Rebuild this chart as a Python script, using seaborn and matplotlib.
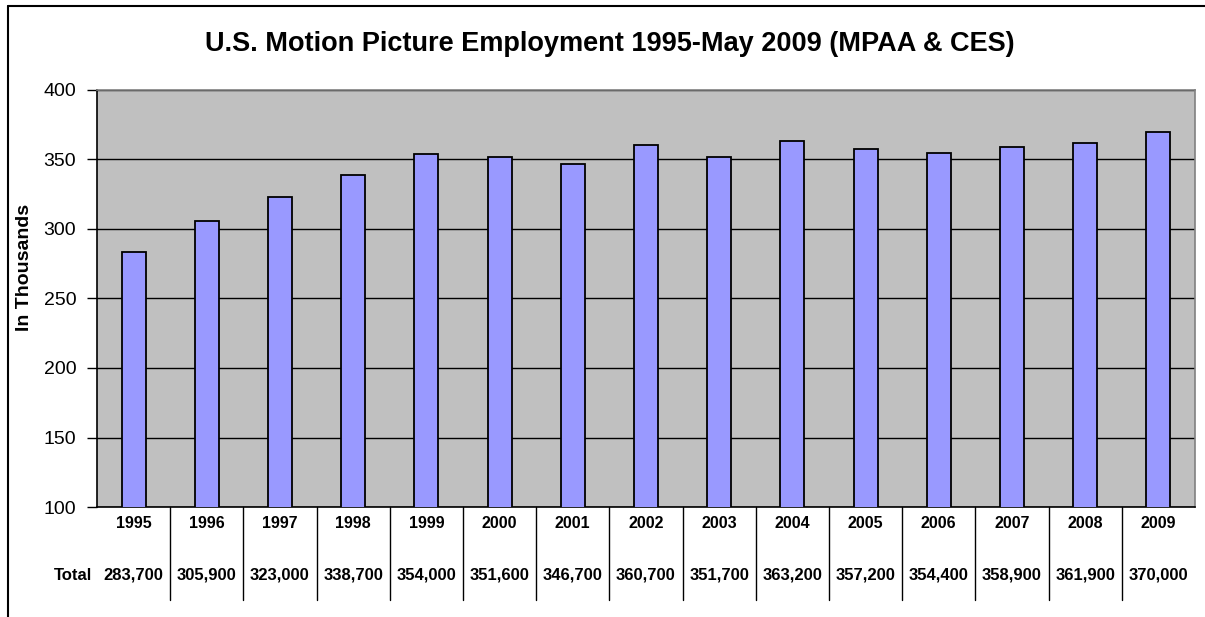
import matplotlib
matplotlib.use("Agg")
import matplotlib.pyplot as plt
import matplotlib.transforms as mtransforms
from matplotlib.lines import Line2D
import seaborn as sns
import pandas as pd

years = ["1995", "1996", "1997", "1998", "1999", "2000", "2001", "2002",
         "2003", "2004", "2005", "2006", "2007", "2008", "2009"]
totals = [283700, 305900, 323000, 338700, 354000, 351600, 346700, 360700,
          351700, 363200, 357200, 354400, 358900, 361900, 370000]
title = "U.S. Motion Picture Employment 1995-May 2009 (MPAA & CES)"
ylabel = "In Thousands"
yticks = [100, 150, 200, 250, 300, 350, 400]

df = pd.DataFrame({"year": years, "thousands": [t / 1000 for t in totals]})

sns.set_theme(style="white")
plt.rcParams['font.family'] = ['Liberation Sans', 'DejaVu Sans']

W, H = 1205, 617
fig = plt.figure(figsize=(W / 100, H / 100), dpi=100)
fig.patch.set_facecolor("white")

L, T, R, B = 97, 90, 1195, 507
ax = fig.add_axes([L / W, 1 - B / H, (R - L) / W, (B - T) / H])
ax.set_facecolor("#C0C0C0")

sns.barplot(data=df, x="year", y="thousands", color="#9999FF", saturation=1,
            edgecolor="black", linewidth=1.3, width=0.33, ax=ax, zorder=3)

ax.set_ylim(100, 400)
ax.set_xlim(-0.5, len(years) - 0.5)
ax.set_yticks(yticks)
ax.set_yticklabels([str(v) for v in yticks], fontsize=14, color="black")
ax.yaxis.grid(True, color="black", linewidth=1.0, zorder=1)
ax.set_axisbelow(True)
ax.tick_params(axis="y", which="both", left=True, length=7, width=1,
               color="black", pad=8, direction="out")
ax.tick_params(axis="x", bottom=False, labelbottom=False)
ax.set_xlabel("")
ax.set_ylabel("")
for s in ["top", "right"]:
    ax.spines[s].set_color("#808080")
    ax.spines[s].set_linewidth(1.2)
for s in ["left", "bottom"]:
    ax.spines[s].set_color("black")
    ax.spines[s].set_linewidth(1.2)

# data table below
trans = mtransforms.blended_transform_factory(ax.transData, ax.transAxes)
ph = B - T
def ay(py):
    return (B - py) / ph

for i, (yr, tot) in enumerate(zip(years, totals)):
    ax.text(i, ay(523), yr, transform=trans, ha="center", va="center",
            fontsize=11.5, fontweight="bold", color="black", clip_on=False)
    ax.text(i, ay(575), f"{tot:,}", transform=trans, ha="center", va="center",
            fontsize=12, fontweight="bold", color="black", clip_on=False)
for i in range(len(years) - 1):
    ax.add_line(Line2D([i + 0.5, i + 0.5], [0, ay(600)], transform=trans,
                       color="black", linewidth=1.0, clip_on=False))

fig.text(92 / W, 1 - 575 / H, "Total", ha="right", va="center",
         fontsize=12, fontweight="bold", color="black")

fig.text(610 / W, 1 - 44 / H, title, ha="center", va="center",
         fontsize=19.5, fontweight="bold", color="black")
fig.text(25 / W, 1 - 267 / H, ylabel, ha="center", va="center",
         rotation=90, fontsize=14, fontweight="bold", color="black")

# outer chart frame (partially visible)
fig.add_artist(Line2D([8 / W, 8 / W], [0, 1 - 6 / H], transform=fig.transFigure,
                      color="black", linewidth=1.5))
fig.add_artist(Line2D([8 / W, 1], [1 - 6 / H, 1 - 6 / H], transform=fig.transFigure,
                      color="black", linewidth=1.5))

fig.savefig("out.png", dpi=100, facecolor="white")
